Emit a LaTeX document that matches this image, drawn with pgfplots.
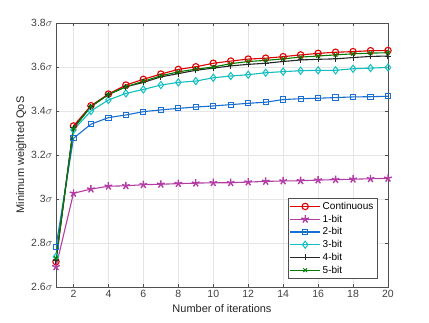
\documentclass[border=0pt]{standalone}
\usepackage{pgfplots}
\pgfplotsset{compat=1.18}
\usepackage{fontspec}
\setmainfont{Liberation Sans}
\definecolor{cRed}{RGB}{220,0,0}
\definecolor{cMag}{RGB}{180,60,165}
\definecolor{cBlue}{RGB}{25,110,210}
\definecolor{cCyan}{RGB}{20,190,190}
\definecolor{cGreen}{RGB}{0,125,0}
\definecolor{axgray}{RGB}{80,80,80}
\begin{document}
\begin{tikzpicture}
\useasboundingbox (-56pt,-35pt) rectangle (373pt,287pt);
\begin{axis}[
  scale only axis, width=332pt, height=264pt,
  xmin=1, xmax=20, ymin=2.6, ymax=3.8,
  xtick={2,4,...,20},
  ytick={2.6,2.8,3.0,3.2,3.4,3.6,3.8},
  yticklabel={\pgfmathprintnumber{\tick}$\sigma$},
  /pgf/number format/assume math mode=true,
  tick align=inside, tick pos=both,
  major tick length=3pt,
  grid=major,
  major grid style={gray!20, line width=0.5pt},
  axis line style={axgray, line width=0.6pt},
  tick style={axgray, line width=0.6pt},
  ticklabel style={font=\fontsize{10.5}{12}\selectfont, text=black!75},
  label style={font=\fontsize{11}{13}\selectfont, text=black!85},
  xlabel={Number of iterations},
  ylabel={Minimum weighted QoS},
  xlabel style={yshift=0pt},
  ylabel style={yshift=-2pt},
  legend style={at={(0.967,0.033)}, anchor=south east, font=\fontsize{10}{11}\selectfont,
    draw=axgray, row sep=0pt, inner sep=1.5pt},
  legend cell align=left,
  legend image code/.code={\draw[mark repeat=2, mark phase=2, #1, line width=1.1pt] plot coordinates {(0pt,0pt)(15pt,0pt)(30pt,0pt)};},
]
\addplot[cRed, line width=1.1pt, mark=o, mark size=3.2pt, mark options={line width=1.1pt}] coordinates {
(1,2.715)(2,3.332)(3,3.424)(4,3.477)(5,3.518)(6,3.544)(7,3.568)(8,3.589)(9,3.601)(10,3.617)
(11,3.627)(12,3.636)(13,3.640)(14,3.647)(15,3.655)(16,3.662)(17,3.667)(18,3.670)(19,3.674)(20,3.675)};
\addlegendentry{Continuous}
\addplot[cMag, line width=1.1pt, mark=star, mark size=4pt, mark options={line width=1.4pt}] coordinates {
(1,2.692)(2,3.026)(3,3.045)(4,3.058)(5,3.060)(6,3.065)(7,3.067)(8,3.070)(9,3.072)(10,3.074)
(11,3.074)(12,3.077)(13,3.080)(14,3.082)(15,3.083)(16,3.086)(17,3.088)(18,3.090)(19,3.092)(20,3.094)};
\addlegendentry{1-bit}
\addplot[cBlue, line width=1.1pt, mark=square, mark size=2.6pt, mark options={line width=1pt}] coordinates {
(1,2.783)(2,3.276)(3,3.340)(4,3.370)(5,3.382)(6,3.397)(7,3.405)(8,3.412)(9,3.418)(10,3.423)
(11,3.429)(12,3.435)(13,3.440)(14,3.452)(15,3.456)(16,3.458)(17,3.461)(18,3.464)(19,3.465)(20,3.467)};
\addlegendentry{2-bit}
\addplot[cCyan, line width=1.1pt, mark=diamond, mark size=3.6pt, mark options={line width=1pt}] coordinates {
(1,2.738)(2,3.314)(3,3.400)(4,3.450)(5,3.480)(6,3.498)(7,3.518)(8,3.530)(9,3.536)(10,3.551)
(11,3.559)(12,3.565)(13,3.574)(14,3.579)(15,3.583)(16,3.585)(17,3.585)(18,3.592)(19,3.595)(20,3.598)};
\addlegendentry{3-bit}
\addplot[black!85, line width=1.1pt, mark=+, mark size=3pt, mark options={line width=1pt}] coordinates {
(1,2.720)(2,3.325)(3,3.420)(4,3.475)(5,3.510)(6,3.530)(7,3.555)(8,3.570)(9,3.585)(10,3.595)
(11,3.605)(12,3.612)(13,3.617)(14,3.625)(15,3.632)(16,3.635)(17,3.637)(18,3.643)(19,3.648)(20,3.650)};
\addlegendentry{4-bit}
\addplot[cGreen, line width=1.1pt, mark=x, mark size=2.6pt, mark options={line width=1pt}] coordinates {
(1,2.730)(2,3.320)(3,3.420)(4,3.475)(5,3.510)(6,3.535)(7,3.560)(8,3.578)(9,3.590)(10,3.600)
(11,3.615)(12,3.625)(13,3.630)(14,3.637)(15,3.645)(16,3.650)(17,3.655)(18,3.660)(19,3.663)(20,3.665)};
\addlegendentry{5-bit}
\end{axis}
\end{tikzpicture}
\end{document}
